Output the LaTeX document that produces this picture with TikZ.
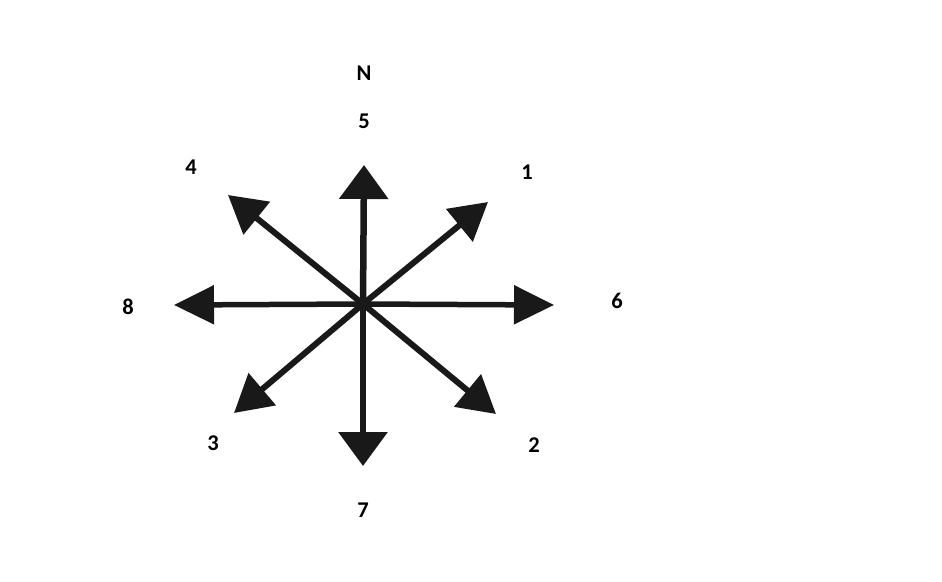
\documentclass[tikz,border=0pt]{standalone}
\usepackage{fontspec}
\setmainfont{Carlito}
\usetikzlibrary{arrows.meta}
\begin{document}
\begin{tikzpicture}[x=1pt,y=-1pt,
  shaft/.style={line width=6pt, black!90, -{Triangle[length=37pt,width=41pt]}},
  vshaft/.style={line width=6.5pt, black!90, -{Triangle[length=34pt,width=48pt]}},
  hshaft/.style={line width=5.5pt, black!90, -{Triangle[length=40pt,width=38pt]}},
  lab/.style={font=\bfseries\fontsize{22.5}{26}\selectfont, inner sep=0pt}]
\useasboundingbox (0,0) rectangle (942,581);
\coordinate (c) at (363,304);
\coordinate (tU) at (364,165);
\coordinate (tD) at (363,466);
\coordinate (tL) at (174,305);
\coordinate (tR) at (554,305);
\coordinate (tUR) at (488,202);
\coordinate (tUL) at (228,195);
\coordinate (tDL) at (234,413);
\coordinate (tDR) at (496,414);
\draw[vshaft] (c) -- (tU);
\draw[vshaft] (c) -- (tD);
\draw[hshaft] (c) -- (tL);
\draw[hshaft] (c) -- (tR);
\draw[shaft] (c) -- (tUR);
\draw[shaft] (c) -- (tUL);
\draw[shaft] (c) -- (tDL);
\draw[shaft] (c) -- (tDR);
\node[lab] (lN) at (364,73) {N};
\node[lab] (l5) at (364,121) {5};
\node[lab] (l4) at (191,167) {4};
\node[lab] (l1) at (527,172) {1};
\node[lab] (l8) at (128,307) {8};
\node[lab] (l6) at (617,301) {6};
\node[lab] (l3) at (213,443) {3};
\node[lab] (l2) at (534,445) {2};
\node[lab] (l7) at (363,510) {7};
\end{tikzpicture}
\end{document}
